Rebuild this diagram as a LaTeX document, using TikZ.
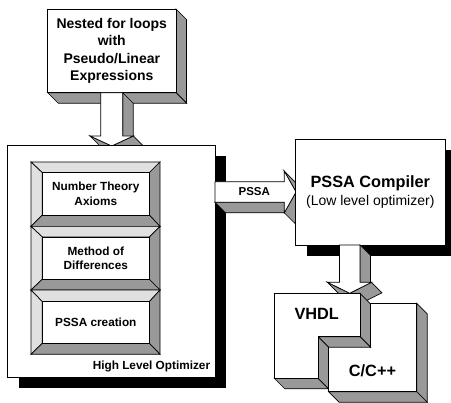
\documentclass[tikz,border=0pt]{standalone}
\usepackage{fontspec}
\setmainfont{Liberation Sans}
\definecolor{side}{HTML}{999999}
\definecolor{lite}{HTML}{E0E0E0}
\begin{document}
\begin{tikzpicture}[x=1pt,y=-1pt,line width=0.7pt,line join=miter,
  face/.style={fill=white,draw=black},
  sideface/.style={fill=side,draw=black},
  liteface/.style={fill=lite,draw=black},
  shadowbox/.style={fill=black},
  txt/.style={inner sep=0pt,align=center},
  bigtxt/.style={txt,font=\bfseries\fontsize{14}{17.2}\selectfont},
  paneltxt/.style={txt,font=\bfseries\fontsize{11.8}{14.3}\selectfont},
  headtxt/.style={txt,font=\bfseries\fontsize{16.3}{19}\selectfont}]
\useasboundingbox (0,0) rectangle (451,403);

% ---- source box
\draw[sideface] (176,9) -- (186.5,19.5) -- (186.5,103.2) -- (176,92.7) -- cycle;
\draw[sideface] (47.7,92.7) -- (176,92.7) -- (186.5,103.2) -- (58.2,103.2) -- cycle;
\draw[face] (47.7,9) rectangle (176,92.7);
\node[bigtxt] (src) at (111.8,50.8) {Nested for loops\\with\\Pseudo/Linear\\Expressions};

% ---- arrow source -> optimizer
\draw[sideface] (122.7,92.7) -- (133.2,103.2) -- (133.2,146.5) -- (122.7,136) -- cycle;
\draw[sideface] (133.3,136) -- (143.8,146.5) -- (122.2,156.5) -- (111.7,146) -- cycle;
\draw[sideface] (111.7,146) -- (122.2,156.5) -- (100.5,146.5) -- (90,136) -- cycle;
\draw[face] (100.7,92.7) -- (122.7,92.7) -- (122.7,136) -- (133.3,136) -- (111.7,146) -- (90,136) -- (100.7,136) -- cycle;

% ---- high level optimizer
\fill[shadowbox] (18.5,156.5) rectangle (226,388.3);
\draw[face] (7.3,145.7) rectangle (215,377.3);
\foreach \yt/\it/\ib/\yb in {162/172.7/215/226.4, 226.4/237/279.3/290, 290/301.7/343.3/354.3}{
  \draw[liteface] (31,\yt) -- (160,\yt) -- (149.3,\it) -- (42.3,\it) -- cycle;
  \draw[liteface] (31,\yt) -- (42.3,\it) -- (42.3,\ib) -- (31,\yb) -- cycle;
  \draw[sideface] (160,\yt) -- (160,\yb) -- (149.3,\ib) -- (149.3,\it) -- cycle;
  \draw[sideface] (31,\yb) -- (42.3,\ib) -- (149.3,\ib) -- (160,\yb) -- cycle;
  \draw[face] (42.3,\it) rectangle (149.3,\ib);
}
\node[paneltxt] (nta) at (95.8,193.8) {Number Theory\\Axioms};
\node[paneltxt] (mod) at (95.8,258) {Method of\\Differences};
\node[paneltxt] (pc) at (95.8,322.5) {PSSA creation};
\node[paneltxt,anchor=east] (hlo) at (210.5,366.7) {High Level Optimizer};

% ---- PSSA arrow
\draw[sideface] (215,202.3) -- (284.3,202.3) -- (294.8,212.8) -- (225.5,212.8) -- cycle;
\draw[sideface] (284.3,171.2) -- (296,192) -- (306.5,202.5) -- (294.8,181.7) -- cycle;
\draw[sideface] (296,192) -- (284.3,212.8) -- (294.8,223.3) -- (306.5,202.5) -- cycle;
\draw[face] (215,181.7) -- (284.3,181.7) -- (284.3,171.2) -- (296,192) -- (284.3,212.8) -- (284.3,202.3) -- (215,202.3) -- cycle;
\node[paneltxt,font=\bfseries\fontsize{11.5}{13}\selectfont] (pssa) at (254.3,191.9) {PSSA};

% ---- compiler
\fill[shadowbox] (306.5,150) rectangle (456,256);
\draw[face] (295.7,139.3) rectangle (445,245);
\node[headtxt] (comp) at (370.3,183.3) {PSSA Compiler};
\node[txt,font=\fontsize{14}{16}\selectfont] (low) at (370.3,201.7) {(Low level optimizer)};

% ---- C/C++ box
\draw[sideface] (416.7,303.3) -- (427.2,313.8) -- (427.2,402.2) -- (416.7,391.7) -- cycle;
\draw[sideface] (328.5,391.7) -- (416.7,391.7) -- (427.2,402.2) -- (339,402.2) -- cycle;
\draw[face] (328.5,303.3) rectangle (416.7,391.7);
\node[headtxt] (cpp) at (372.5,370.7) {C/C++};

% ---- arrow compiler -> outputs
\draw[sideface] (360,245) -- (370.5,255.5) -- (370.5,292.8) -- (360,282.3) -- cycle;
\draw[sideface] (371.5,282.3) -- (382,292.8) -- (360.2,303.8) -- (349.7,293.3) -- cycle;
\draw[sideface] (349.7,293.3) -- (360.2,303.8) -- (338,292.8) -- (327.5,282.3) -- cycle;
\draw[face] (339.5,245) -- (360,245) -- (360,282.3) -- (371.5,282.3) -- (349.7,293.3) -- (327.5,282.3) -- (339.5,282.3) -- cycle;

% ---- VHDL box
\draw[sideface] (360,293.3) -- (370.5,303.8) -- (370.5,347.2) -- (360,336.7) -- cycle;
\draw[sideface] (360,336.7) -- (370.5,347.2) -- (328.5,347.2) -- (318,336.7) -- cycle;
\draw[sideface] (318,336.7) -- (328.5,347.2) -- (328.5,388.8) -- (318,378.3) -- cycle;
\draw[sideface] (318,378.3) -- (328.5,388.8) -- (284.8,388.8) -- (274.3,378.3) -- cycle;
\draw[face] (274.3,293.3) -- (360,293.3) -- (360,336.7) -- (318,336.7) -- (318,378.3) -- (274.3,378.3) -- cycle;
\node[headtxt] (vhdl) at (316.7,314.3) {VHDL};
\end{tikzpicture}
\end{document}
